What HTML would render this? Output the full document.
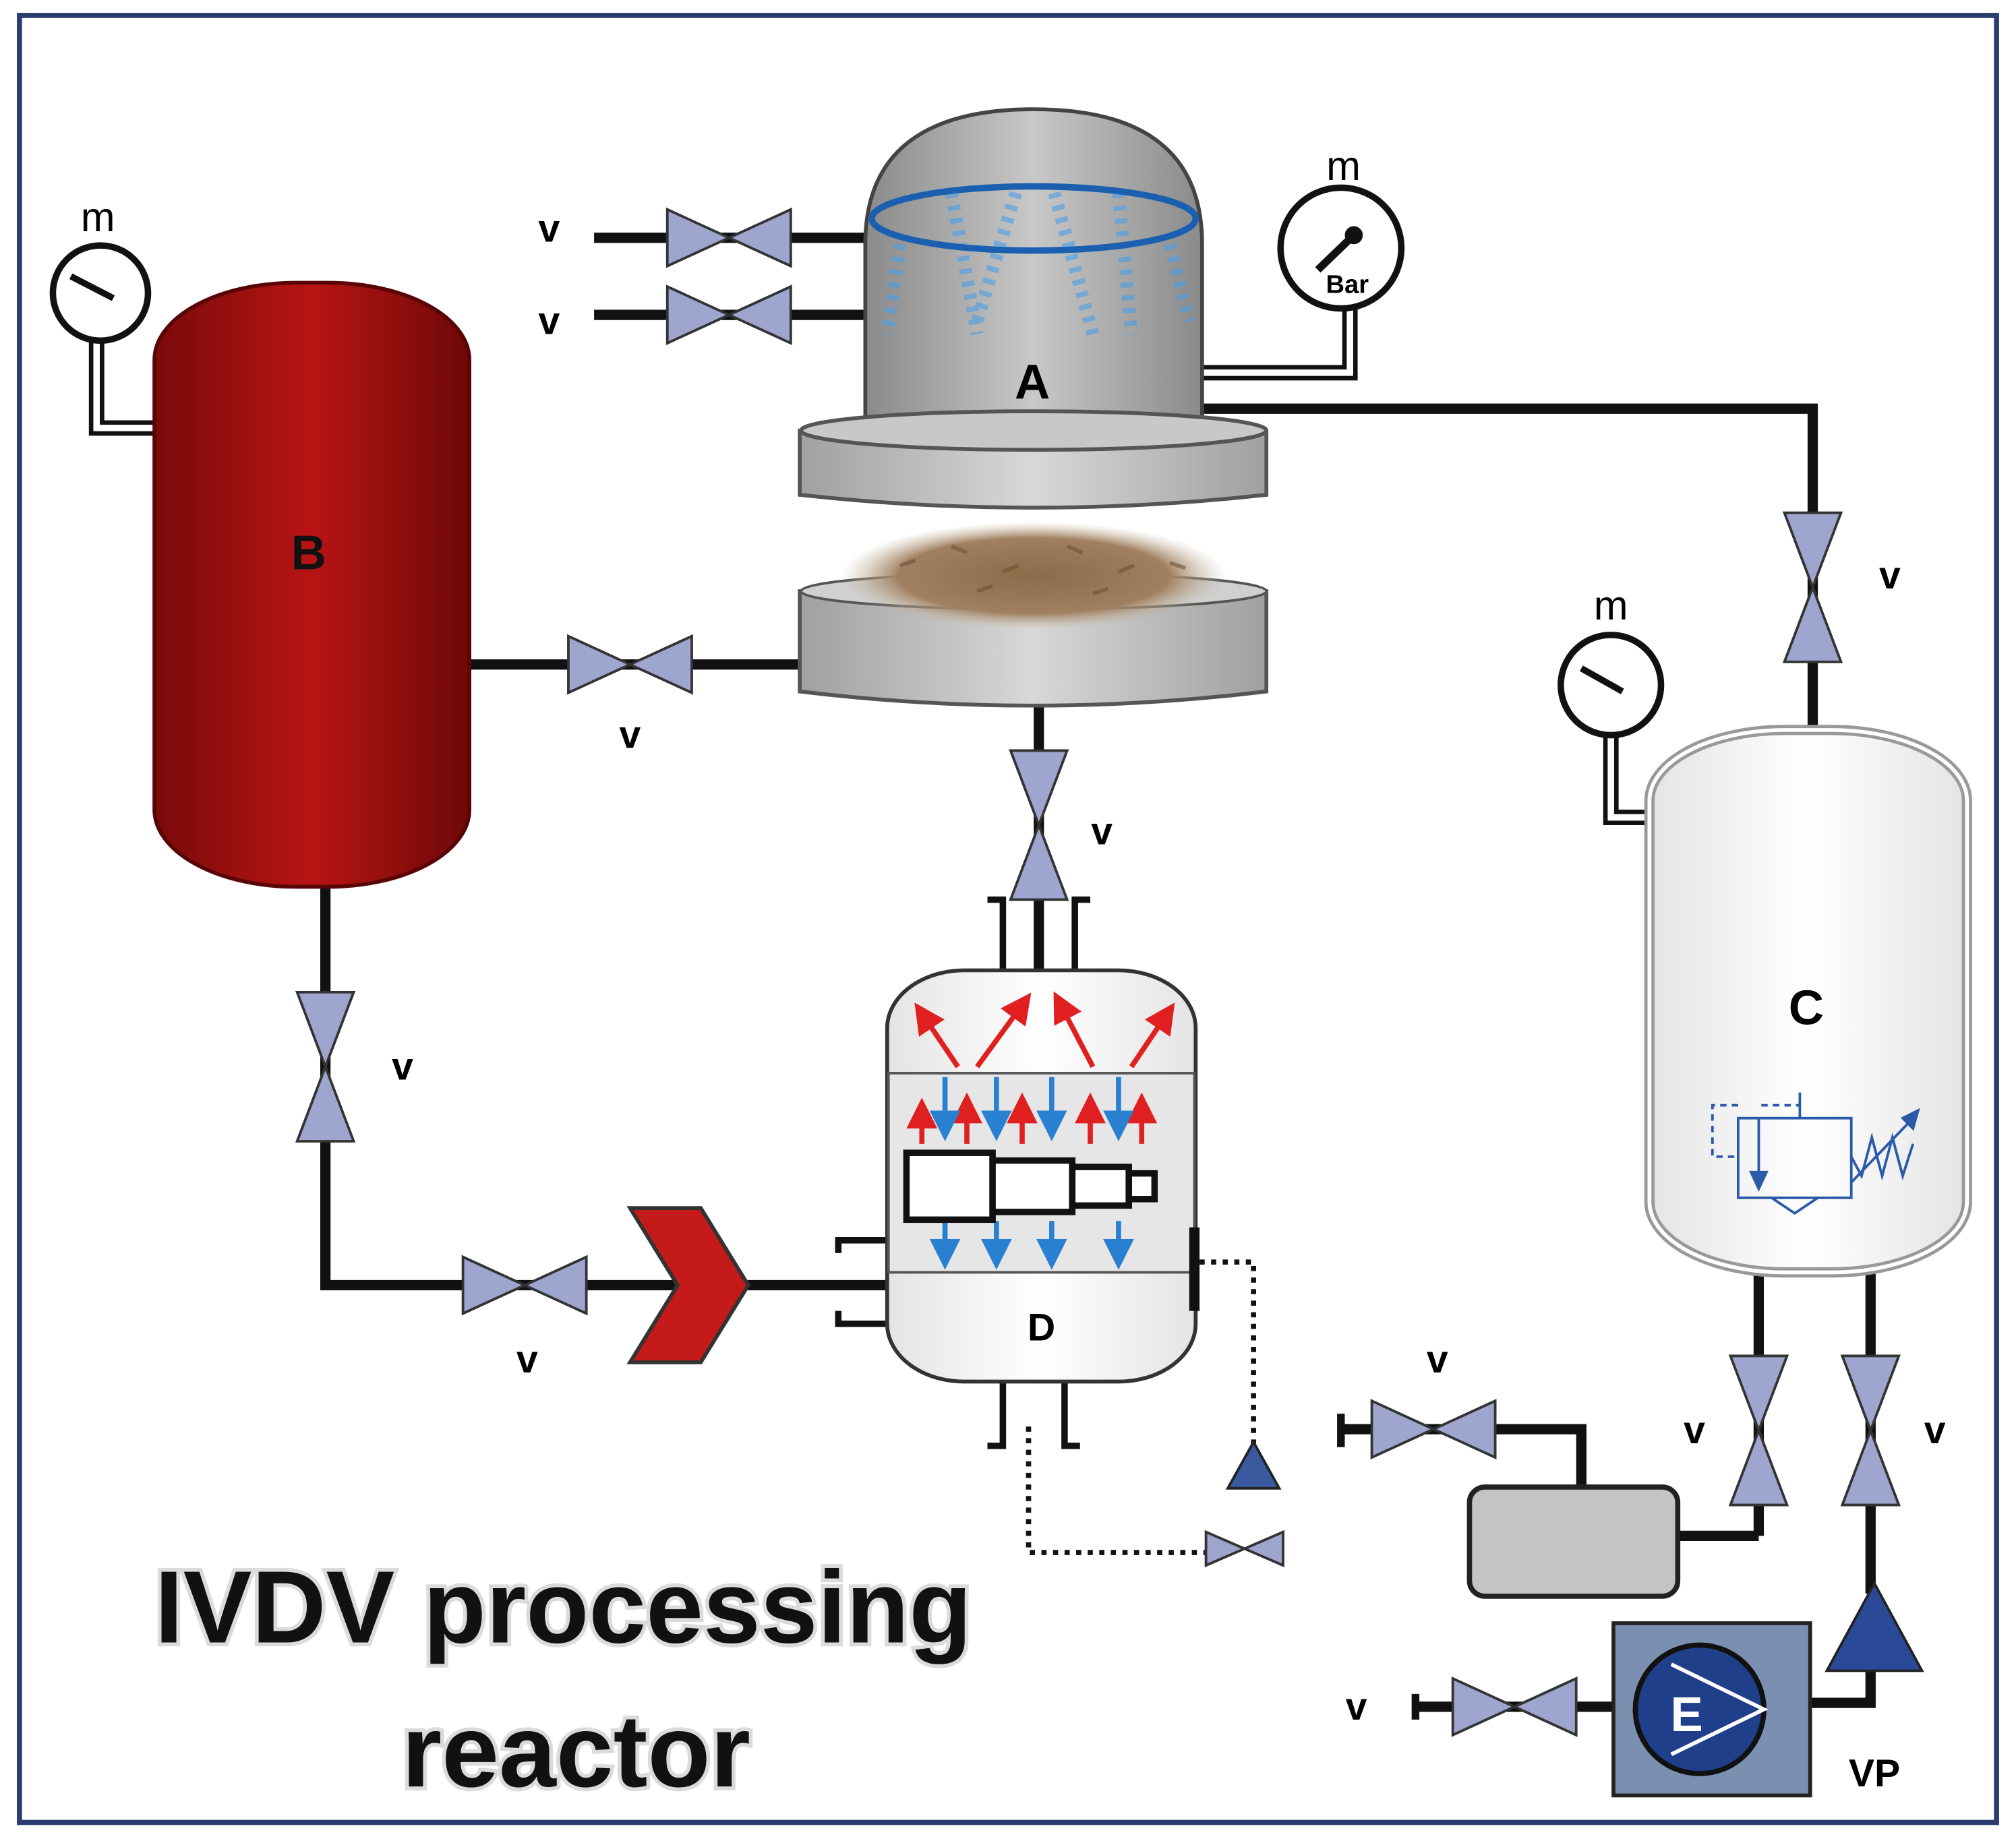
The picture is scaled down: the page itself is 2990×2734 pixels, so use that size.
<!DOCTYPE html>
<html><head><meta charset="utf-8"><style>html,body{margin:0;padding:0;background:#fff}svg{display:block}</style></head>
<body>
<svg width="2990" height="2734" viewBox="0 0 1568 1434" xmlns="http://www.w3.org/2000/svg" font-family="Liberation Sans, sans-serif">
<defs>
<linearGradient id="red" x1="0" x2="1"><stop offset="0" stop-color="#7a0a0a"/><stop offset="0.5" stop-color="#b81414"/><stop offset="1" stop-color="#6e0808"/></linearGradient>
<linearGradient id="grey" x1="0" x2="1"><stop offset="0" stop-color="#8a8a8a"/><stop offset="0.5" stop-color="#c8c8c8"/><stop offset="1" stop-color="#8a8a8a"/></linearGradient>
<linearGradient id="dgrey" x1="0" x2="1"><stop offset="0" stop-color="#a0a0a0"/><stop offset="0.5" stop-color="#d8d8d8"/><stop offset="1" stop-color="#a0a0a0"/></linearGradient>
<linearGradient id="wht" x1="0" x2="1"><stop offset="0" stop-color="#e4e4e4"/><stop offset="0.5" stop-color="#ffffff"/><stop offset="1" stop-color="#e4e4e4"/></linearGradient>
<radialGradient id="grain"><stop offset="0" stop-color="#8b6b48"/><stop offset="0.7" stop-color="#a08060"/><stop offset="1" stop-color="#c8b8a0" stop-opacity="0"/></radialGradient>
<marker id="ar" markerWidth="6" markerHeight="6" refX="3" refY="3" orient="auto" markerUnits="strokeWidth"><path d="M0,0 L6,3 L0,6 Z" fill="#e02020"/></marker>
<marker id="ab" markerWidth="6" markerHeight="6" refX="3" refY="3" orient="auto" markerUnits="strokeWidth"><path d="M0,0 L6,3 L0,6 Z" fill="#2a80d0"/></marker>
<g id="vh"><polygon points="-48,-22 0,0 -48,22" fill="#9ea6d0" stroke="#333" stroke-width="2"/><polygon points="48,-22 0,0 48,22" fill="#9ea6d0" stroke="#333" stroke-width="2"/></g>
<g id="vv"><polygon points="-22,-58 0,0 22,-58" fill="#9ea6d0" stroke="#333" stroke-width="2"/><polygon points="-22,58 0,0 22,58" fill="#9ea6d0" stroke="#333" stroke-width="2"/></g>
</defs>
<rect x="15" y="12" width="1538" height="1406" fill="#fff" stroke="#2b3d6e" stroke-width="4"/>

<g stroke="#111" stroke-width="8" fill="none">
<line x1="462" y1="185" x2="673" y2="185"/><line x1="462" y1="245" x2="673" y2="245"/>
<polyline points="935,318 1410,318 1410,572"/>
<line x1="365" y1="517" x2="622" y2="517"/>
<line x1="808" y1="550" x2="808" y2="755"/>
<polyline points="253,690 253,1000 690,1000"/>
<line x1="1368" y1="990" x2="1368" y2="1195"/><polyline points="1305,1195 1368,1195"/>
<line x1="1455" y1="990" x2="1455" y2="1240"/>
<polyline points="1455,1300 1455,1325 1408,1325"/>
<polyline points="1230,1157 1230,1112 1045,1112"/>
<line x1="1100" y1="1328" x2="1255" y2="1328"/>
</g>
<g fill="none" stroke="#111" stroke-width="12"><polyline points="75,265 75,333 120,333"/><polyline points="935,290 1050,290 1050,240"/><polyline points="1253,572 1253,636 1283,636"/></g>
<g fill="none" stroke="#fff" stroke-width="5"><polyline points="75,265 75,333 122,333"/><polyline points="933,290 1050,290 1050,240"/><polyline points="1253,572 1253,636 1285,636"/></g>

<rect x="120" y="220" width="245" height="470" rx="110" ry="60" fill="url(#red)" stroke="#5a0505" stroke-width="3"/>
<text x="240" y="443" font-size="38" font-weight="bold" text-anchor="middle" fill="#111">B</text>
<circle cx="78" cy="228" r="37" fill="#fff" stroke="#111" stroke-width="5"/><line x1="55" y1="215" x2="88" y2="232" stroke="#111" stroke-width="5"/>
<text x="76" y="180" font-size="32" text-anchor="middle">m</text>
<circle cx="1043" cy="193" r="47" fill="#fff" stroke="#111" stroke-width="5"/><line x1="1053" y1="183" x2="1025" y2="210" stroke="#111" stroke-width="6"/><circle cx="1053" cy="183" r="7" fill="#111"/>
<text x="1048" y="228" font-size="20" font-weight="bold" text-anchor="middle">Bar</text>
<text x="1045" y="140" font-size="32" text-anchor="middle">m</text>
<circle cx="1253" cy="533" r="39" fill="#fff" stroke="#111" stroke-width="5"/><line x1="1230" y1="520" x2="1262" y2="538" stroke="#111" stroke-width="5"/>
<text x="1253" y="482" font-size="32" text-anchor="middle">m</text>

<path d="M673,325 L673,190 Q673,85 804,85 Q935,85 935,190 L935,325 Z" fill="url(#grey)" stroke="#444" stroke-width="3"/>
<g stroke="#4aa0e8" stroke-width="10" stroke-dasharray="4 6" opacity="0.6" fill="none">
<line x1="700" y1="190" x2="690" y2="260"/><line x1="740" y1="150" x2="760" y2="260"/><line x1="790" y1="150" x2="760" y2="250"/><line x1="820" y1="150" x2="850" y2="260"/><line x1="870" y1="150" x2="880" y2="260"/><line x1="910" y1="190" x2="925" y2="250"/></g>
<ellipse cx="804" cy="170" rx="126" ry="25" fill="none" stroke="#1a5fb0" stroke-width="5"/>
<text x="803" y="310" font-size="38" font-weight="bold" text-anchor="middle">A</text>
<path d="M622,335 L622,385 Q804,405 985,385 L985,335 Z" fill="url(#dgrey)" stroke="#555" stroke-width="3"/>
<ellipse cx="804" cy="335" rx="181" ry="15" fill="#c8c8c8" stroke="#555" stroke-width="3"/>
<path d="M622,460 L622,538 Q804,560 985,538 L985,460 Z" fill="url(#dgrey)" stroke="#555" stroke-width="3"/>
<ellipse cx="804" cy="460" rx="181" ry="14" fill="#d0d0d0" stroke="#555" stroke-width="2"/>
<ellipse cx="804" cy="448" rx="150" ry="42" fill="url(#grain)"/>
<g stroke="#6e5236" stroke-width="3" opacity="0.6"><line x1="700" y1="440" x2="712" y2="436"/><line x1="740" y1="425" x2="752" y2="430"/><line x1="780" y1="445" x2="792" y2="440"/><line x1="830" y1="425" x2="842" y2="430"/><line x1="870" y1="445" x2="882" y2="440"/><line x1="760" y1="460" x2="772" y2="456"/><line x1="850" y1="462" x2="862" y2="458"/><line x1="910" y1="438" x2="922" y2="442"/></g>

<use href="#vh" x="567" y="185"/><use href="#vh" x="567" y="245"/>
<use href="#vv" x="1410" y="457"/><use href="#vh" x="490" y="517"/>
<use href="#vv" x="808" y="642"/><use href="#vv" x="253" y="830"/>
<use href="#vh" x="408" y="1000"/>
<use href="#vv" x="1368" y="1113"/><use href="#vv" x="1455" y="1113"/>
<use href="#vh" x="1115" y="1112"/>
<use href="#vh" x="1178" y="1328"/>
<g font-size="30" font-weight="bold" text-anchor="middle">
<text x="427" y="188">v</text><text x="427" y="260">v</text><text x="1470" y="458">v</text><text x="490" y="582">v</text><text x="857" y="657">v</text><text x="313" y="840">v</text><text x="410" y="1068">v</text><text x="1318" y="1123">v</text><text x="1505" y="1123">v</text><text x="1118" y="1068">v</text><text x="1055" y="1338">v</text><text x="1458" y="1390">VP</text></g>
<rect x="1040" y="1100" width="6" height="26" fill="#111"/><rect x="1098" y="1318" width="6" height="20" fill="#111"/>

<polygon points="490,940 545,940 582,1000 545,1060 490,1060 527,1000" fill="#c41a1a" stroke="#333" stroke-width="3"/>

<g stroke="#111" stroke-width="5" fill="none">
<polyline points="768,700 780,700 780,755"/><polyline points="848,700 836,700 836,755"/>
<polyline points="768,1125 780,1125 780,1075"/><polyline points="840,1125 828,1125 828,1075"/>
<polyline points="690,965 652,965 652,975"/><polyline points="690,1030 652,1030 652,1020"/>
</g>
<rect x="690" y="755" width="240" height="320" rx="60" ry="45" fill="url(#wht)" stroke="#333" stroke-width="3"/>
<rect x="691" y="835" width="238" height="155" fill="#e6e6e6" stroke="#555" stroke-width="2"/>
<rect x="925" y="955" width="8" height="65" fill="#111"/>
<g stroke="#e02020" stroke-width="4" marker-end="url(#ar)"><line x1="745" y1="830" x2="718" y2="790"/><line x1="760" y1="830" x2="795" y2="782"/><line x1="850" y1="830" x2="825" y2="782"/><line x1="880" y1="830" x2="907" y2="790"/>
<line x1="717" y1="890" x2="717" y2="866"/><line x1="752" y1="890" x2="752" y2="862"/><line x1="795" y1="890" x2="795" y2="862"/><line x1="848" y1="890" x2="848" y2="862"/><line x1="888" y1="890" x2="888" y2="862"/></g>
<g stroke="#2a80d0" stroke-width="4" marker-end="url(#ab)"><line x1="735" y1="838" x2="735" y2="876"/><line x1="775" y1="838" x2="775" y2="876"/><line x1="818" y1="838" x2="818" y2="876"/><line x1="870" y1="838" x2="870" y2="876"/>
<line x1="735" y1="950" x2="735" y2="976"/><line x1="775" y1="950" x2="775" y2="976"/><line x1="818" y1="950" x2="818" y2="976"/><line x1="870" y1="950" x2="870" y2="976"/></g>
<rect x="705" y="897" width="67" height="52" fill="#fff" stroke="#111" stroke-width="5"/>
<rect x="772" y="903" width="62" height="40" fill="#fff" stroke="#111" stroke-width="5"/>
<rect x="834" y="908" width="44" height="30" fill="#fff" stroke="#111" stroke-width="5"/>
<rect x="878" y="913" width="20" height="20" fill="#fff" stroke="#111" stroke-width="5"/>
<text x="810" y="1043" font-size="30" font-weight="bold" text-anchor="middle">D</text>
<g stroke="#111" stroke-width="4" stroke-dasharray="4 5" fill="none"><polyline points="933,982 975,982 975,1140"/><polyline points="800,1110 800,1208 940,1208"/></g>
<polygon points="975,1122 995,1158 955,1158" fill="#3a5aa0" stroke="#222" stroke-width="2"/>
<g fill="#9ea6d0" stroke="#333" stroke-width="2"><polygon points="938,1192 968,1205 938,1218"/><polygon points="998,1192 968,1205 998,1218"/></g>

<rect x="1283" y="568" width="247" height="422" rx="105" ry="55" fill="url(#wht)" stroke="#999" stroke-width="8"/>
<rect x="1283" y="568" width="247" height="422" rx="105" ry="55" fill="none" stroke="#fff" stroke-width="3"/>
<text x="1405" y="797" font-size="38" font-weight="bold" text-anchor="middle">C</text>
<g stroke="#2b5aa8" stroke-width="2" fill="none">
<rect x="1352" y="870" width="88" height="62"/><polyline points="1368,870 1368,920"/><polygon points="1362,912 1374,912 1368,925" fill="#2b5aa8"/>
<polyline points="1352,860 1332,860 1332,900 1352,900" stroke-dasharray="5 4"/><line x1="1370" y1="860" x2="1400" y2="860" stroke-dasharray="5 4"/><line x1="1400" y1="850" x2="1400" y2="870"/>
<polyline points="1378,932 1396,944 1414,932"/>
<polyline points="1440,900 1448,915 1456,885 1464,915 1472,885 1480,915 1488,890"/><line x1="1440" y1="920" x2="1490" y2="868"/><polygon points="1492,864 1480,870 1488,878" fill="#2b5aa8"/></g>

<rect x="1143" y="1157" width="162" height="85" rx="12" fill="#c4c4c4" stroke="#222" stroke-width="4"/>
<rect x="1255" y="1263" width="153" height="134" fill="#7b8fb0" stroke="#222" stroke-width="3"/>
<circle cx="1322" cy="1330" r="50" fill="#1f3f8a" stroke="#111" stroke-width="4"/>
<polyline points="1300,1295 1372,1330 1300,1365" fill="none" stroke="#fff" stroke-width="3"/>
<text x="1312" y="1347" font-size="38" font-weight="bold" fill="#fff" text-anchor="middle">E</text>
<polygon points="1458,1232 1495,1300 1421,1300" fill="#2a4a98" stroke="#222" stroke-width="2"/>

<g font-size="80" font-weight="bold" fill="#111" text-anchor="middle">
<text x="438" y="1278" stroke="#999" stroke-width="6" opacity="0.35">IVDV processing</text>
<text x="438" y="1278">IVDV processing</text>
<text x="448" y="1390" stroke="#999" stroke-width="6" opacity="0.35">reactor</text>
<text x="448" y="1390">reactor</text></g>
</svg>
</body></html>
